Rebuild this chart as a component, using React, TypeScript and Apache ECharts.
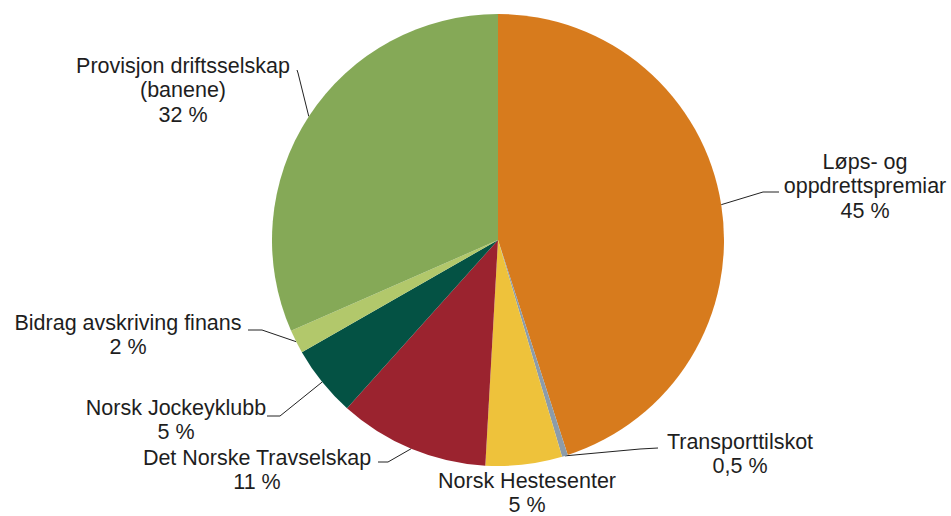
import React, { useEffect, useRef } from "react";
import * as echarts from "echarts";

const categories = [
  "Løps- og\noppdrettspremiar",
  "Transporttilskot",
  "Norsk Hestesenter",
  "Det Norske Travselskap",
  "Norsk Jockeyklubb",
  "Bidrag avskriving finans",
  "Provisjon driftsselskap\n(banene)",
];
const values = [45.0, 0.42, 5.47, 10.75, 5.08, 1.69, 31.58];
const pctLabels = ["45 %", "0,5 %", "5 %", "11 %", "5 %", "2 %", "32 %"];
const colors = ["#D77B1D", "#8C9CAA", "#EEC23B", "#9B232F", "#045244", "#B2C86B", "#85A957"];

// label layout: center of text block and leader-line bend/end points
const labelLayouts: { x: number; y: number; pts: number[][] | null }[] = [
  { x: 865, y: 186, pts: [[763, 192], [779, 192]] },
  { x: 740, y: 454, pts: [[640, 449], [658, 448]] },
  { x: 527, y: 493, pts: null },
  { x: 257, y: 470, pts: [[388, 462], [378, 462]] },
  { x: 176, y: 420, pts: [[280, 416], [267, 416]] },
  { x: 128, y: 335, pts: [[262, 330], [248, 330]] },
  { x: 183, y: 90, pts: [[298, 73], [297, 70]] },
];

export default function App() {
  const ref = useRef<HTMLDivElement>(null);
  useEffect(() => {
    if (!ref.current) return;
    const chart = echarts.init(ref.current, undefined, { renderer: "svg" });
    chart.setOption({
      animation: false,
      backgroundColor: "#ffffff",
      series: [
        {
          type: "pie",
          center: [498, 240],
          radius: [0, 226],
          startAngle: 90,
          clockwise: true,
          avoidLabelOverlap: false,
          data: categories.map((name, i) => ({
            name,
            value: values[i],
            itemStyle: { color: colors[i] },
            labelLine: { show: labelLayouts[i].pts !== null },
          })),
          itemStyle: { borderWidth: 0 },
          label: {
            show: true,
            position: "outside",
            alignTo: "none",
            formatter: (p: any) => `${p.name}\n${pctLabels[p.dataIndex]}`,
            fontFamily: "'Liberation Sans', Arial, sans-serif",
            fontSize: 21.5,
            lineHeight: 24.5,
            color: "#1e1e1e",
            align: "center",
          },
          labelLine: {
            show: true,
            length: 15,
            length2: 15,
            lineStyle: { color: "#222222", width: 1 },
          },
          labelLayout: (params: any) => {
            const L = labelLayouts[params.dataIndex];
            const out: any = {
              x: L.x,
              y: L.y,
              align: "center",
              verticalAlign: "middle",
            };
            if (L.pts && params.labelLinePoints) {
              out.labelLinePoints = [params.labelLinePoints[0], L.pts[0], L.pts[1]];
            }
            return out;
          },
        },
      ],
    });
    return () => chart.dispose();
  }, []);
  return (
    <div
      ref={ref}
      style={{ position: "fixed", left: 0, top: 0, width: 951, height: 516 }}
    />
  );
}
